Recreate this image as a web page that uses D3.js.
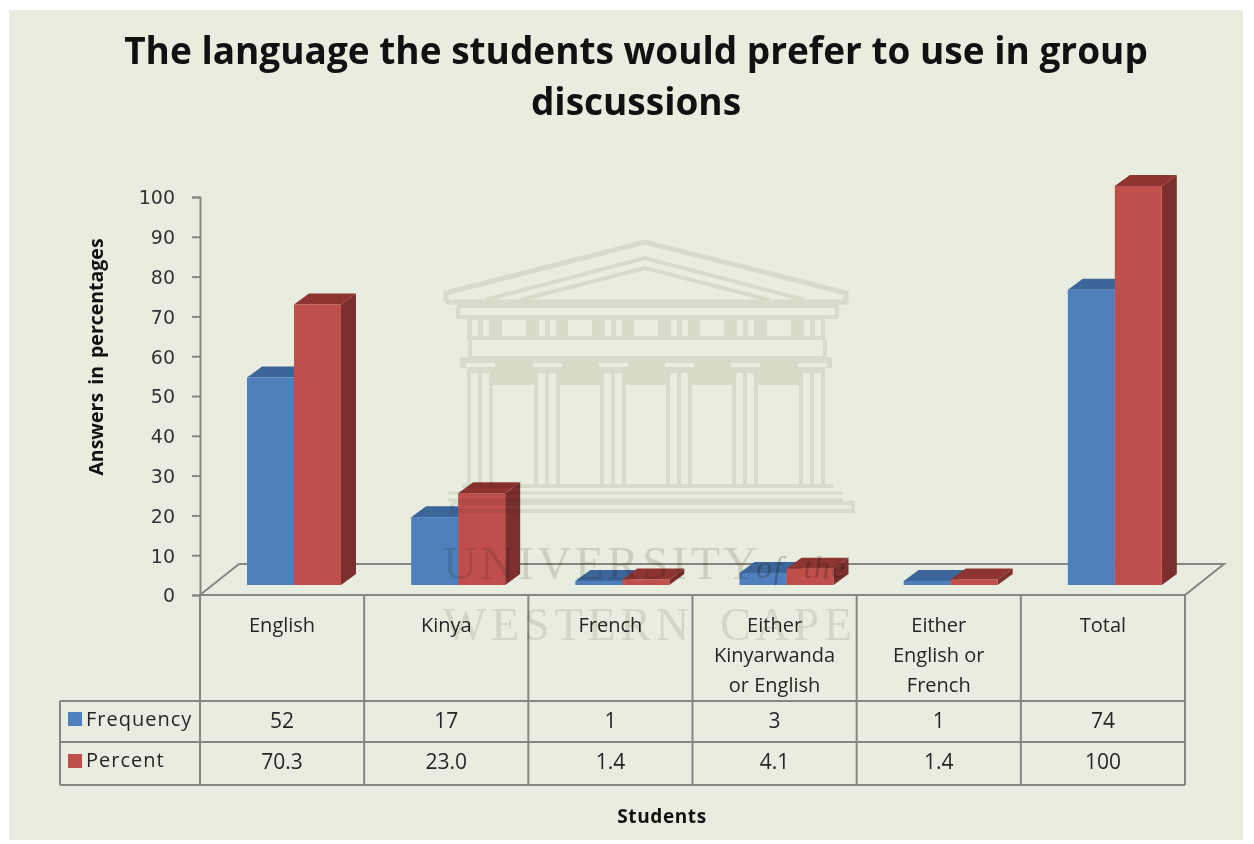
<!DOCTYPE html>
<html>
<head>
<meta charset="utf-8">
<style>
html,body{margin:0;padding:0;background:#fff}
svg{display:block}
text{font-family:"Open Sans",sans-serif;fill:#262626}
</style>
<script src="https://cdn.jsdelivr.net/npm/d3@7/dist/d3.min.js"></script>
</head>
<body>
<svg id="chart" width="1254" height="844"></svg>
<script>
const titleLines = ["The language the students would prefer to use in group", "discussions"];
const categories = ["English", "Kinya", "French", "Either Kinyarwanda or English", "Either English or French", "Total"];
const categoryLines = [["English"], ["Kinya"], ["French"], ["Either", "Kinyarwanda", "or English"], ["Either", "English or", "French"], ["Total"]];
const seriesNames = ["Frequency", "Percent"];
const frequency = [52, 17, 1, 3, 1, 74];
const percent = [70.3, 23.0, 1.4, 4.1, 1.4, 100];
const percentLabels = ["70.3", "23.0", "1.4", "4.1", "1.4", "100"];
const yTicks = [0, 10, 20, 30, 40, 50, 60, 70, 80, 90, 100];
const yLabel = "Answers in percentages";
const xLabel = "Students";
const crestTop = ["UNIVERSITY", "of the"];
const crestBottom = "WESTERN CAPE";

const palette = {
  Frequency: {front: "#4f7fbc", top: "#3c659a", side: "#35598a"},
  Percent: {front: "#c04f4c", top: "#8e3431", side: "#7c2f2d"}
};
const gridColor = "#85887f";
const depth = {dx: 15, dy: -11};

const svg = d3.select("#chart");
svg.append("rect").attr("x", 9).attr("y", 10).attr("width", 1234).attr("height", 830).attr("fill", "#e9eddf");

// Title
svg.append("g").selectAll("text").data(titleLines).join("text")
  .attr("x", 636).attr("y", (d, i) => 64 + i * 51)
  .attr("text-anchor", "middle").attr("font-size", 37).attr("font-weight", 700)
  .style("fill", "#111").text(d => d);

// Scales: the axis runs down to the floor's front edge, bars stand further back on the floor
const column = d3.scaleBand().domain(categories).range([200, 1185]);
const inBand = d3.scaleBand().domain(seriesNames).range([47, 141]);
const yAxisScale = d3.scaleLinear().domain([0, 100]).range([595, 197]);
const yBar = d3.scaleLinear().domain([0, 100]).range([585, 186]);

// Floor of the 3-D plot
const floorBack = yAxisScale(0) - 31;
svg.append("path")
  .attr("d", d3.line()([[200, yAxisScale(0)], [239, floorBack], [1224, floorBack], [1185, yAxisScale(0)]]) + "Z")
  .attr("fill", "none").attr("stroke", gridColor).attr("stroke-width", 2);

// Value axis
const axis = svg.append("g").attr("transform", "translate(200,0)")
  .call(d3.axisLeft(yAxisScale).tickValues(yTicks).tickSize(8).tickPadding(17));
axis.selectAll("path,line").attr("stroke", gridColor).attr("stroke-width", 2);
axis.selectAll("text").attr("font-size", 19).style("font-family", "'DejaVu Sans',sans-serif").style("fill", "#333").attr("dy", "0.36em");

svg.append("text")
  .attr("transform", "translate(103,357) rotate(-90)")
  .attr("text-anchor", "middle").attr("font-size", 19.5).attr("font-weight", 700)
  .style("word-spacing", "3px").style("fill", "#111").text(yLabel);

// Bars with their top and side faces
const seriesValues = [frequency, percent];
const barGroup = svg.append("g");
seriesNames.forEach((name, s) => {
  const w = inBand.bandwidth();
  const g = barGroup.append("g");
  const rows = categories.map((c, i) => ({
    x0: column(c) + inBand(name),
    x1: column(c) + inBand(name) + w,
    yTop: yBar(seriesValues[s][i]),
    yBase: yBar(0)
  }));
  const line = d3.line();
  g.selectAll(".side").data(rows).join("path")
    .attr("fill", palette[name].side)
    .attr("d", d => line([[d.x1, d.yTop], [d.x1 + depth.dx, d.yTop + depth.dy], [d.x1 + depth.dx, d.yBase + depth.dy], [d.x1, d.yBase]]) + "Z");
  g.selectAll(".top").data(rows).join("path")
    .attr("fill", palette[name].top)
    .attr("d", d => line([[d.x0, d.yTop], [d.x0 + depth.dx, d.yTop + depth.dy], [d.x1 + depth.dx, d.yTop + depth.dy], [d.x1, d.yTop]]) + "Z");
  g.selectAll(".front").data(rows).join("rect")
    .attr("fill", palette[name].front)
    .attr("x", d => d.x0).attr("y", d => d.yTop)
    .attr("width", w).attr("height", d => d.yBase - d.yTop);
});

// Data table beneath the plot
const rowY = [701, 742, 785];
const tableLeft = 60, tableRight = 1185, tableTop = yAxisScale(0);
const table = svg.append("g").attr("stroke", gridColor).attr("stroke-width", 2);
rowY.forEach(y => table.append("line").attr("x1", tableLeft).attr("x2", tableRight).attr("y1", y).attr("y2", y));
table.append("line").attr("x1", tableLeft).attr("x2", tableLeft).attr("y1", rowY[0]).attr("y2", rowY[2]);
categories.concat([null]).forEach(c => {
  const x = c === null ? tableRight : column(c);
  table.append("line").attr("x1", x).attr("x2", x).attr("y1", tableTop).attr("y2", rowY[2]);
});

const cellCenter = c => column(c) + column.bandwidth() / 2;
const cellText = svg.append("g").attr("text-anchor", "middle");
categories.forEach((c, i) => {
  categoryLines[i].forEach((line, k) => {
    cellText.append("text").attr("x", cellCenter(c)).attr("y", 632 + k * 30).attr("font-size", 20).text(line);
  });
  cellText.append("text").attr("x", cellCenter(c)).attr("y", 728).attr("font-size", 21).text(frequency[i]);
  cellText.append("text").attr("x", cellCenter(c)).attr("y", 769).attr("font-size", 21).text(percentLabels[i]);
});

// Legend keys sit in the row headers
seriesNames.forEach((name, s) => {
  svg.append("rect").attr("x", 68).attr("y", [712, 754][s]).attr("width", 14).attr("height", 14).attr("fill", palette[name].front);
  svg.append("text").attr("x", 86).attr("y", [726, 767][s]).attr("font-size", 20).style("letter-spacing", "1px").text(name);
});

svg.append("text").attr("x", 662).attr("y", 823).attr("text-anchor", "middle")
  .attr("font-size", 19).attr("font-weight", 700).style("letter-spacing", "0.6px").style("fill", "#111").text(xLabel);

// University crest laid over the whole chart; white areas leave what lies beneath untouched
const crest = svg.append("g").attr("pointer-events", "none").style("mix-blend-mode", "multiply");
const crestInk = "#ebece7";
const crestGap = "#ffffff";
const lineInk = (pts, w) => crest.append("path").attr("d", d3.line()(pts)).attr("fill", "none").attr("stroke", crestInk).attr("stroke-width", w);
const block = (x, y, w, h, fill) => crest.append("rect").attr("x", x).attr("y", y).attr("width", w).attr("height", h).attr("fill", fill);

// Pediment and cornice
lineInk([[446, 302], [446, 293], [645, 242], [846, 293], [846, 302], [446, 302]], 5);
lineInk([[485, 300], [645, 258], [805, 300]], 4);
lineInk([[520, 300], [645, 268], [770, 300]], 4);
lineInk([[458, 306], [458, 317], [837, 317], [837, 306], [458, 306]], 4);

// Frieze with metopes and triglyphs
const columnCenters = [480, 547, 613, 679, 745, 812];
const metopes = [502, 568, 634, 700, 767];
block(467, 316, 358, 24, crestInk);
metopes.forEach(x => block(x, 320, 24, 16, crestGap));
columnCenters.forEach(cx => {
  block(cx - 8, 320, 6, 16, crestGap);
  block(cx + 3, 320, 6, 16, crestGap);
});

// Architrave
lineInk([[470, 340], [470, 358], [825, 358], [825, 340]], 4);
block(460, 357, 372, 11, crestInk);
block(480, 368, 332, 17, crestInk);

// Colonnade
columnCenters.forEach(cx => {
  block(cx - 14, 363, 29, 4, crestGap);
  block(cx - 13, 368, 26, 117, crestInk);
  block(cx - 9, 373, 7, 112, crestGap);
  block(cx + 2, 373, 7, 112, crestGap);
});

// Steps
lineInk([[462, 486], [833, 486]], 4);
lineInk([[448, 493], [843, 493]], 3);
lineInk([[448, 500], [843, 500]], 3);
lineInk([[452, 503], [853, 503], [853, 511], [452, 511], [452, 503]], 4);

const crestFont = "'Liberation Serif',serif";
const crestText = (t, x, y, size, spacing, italic, ink) => crest.append("text")
  .attr("x", x).attr("y", y).attr("font-size", size)
  .style("font-family", crestFont).style("font-style", italic ? "italic" : "normal")
  .style("letter-spacing", spacing + "px").style("word-spacing", "10px").style("fill", ink).text(t);
crestText(crestTop[0], 443, 579, 47, 3.6, false, "#dfe0db");
crestText(crestTop[1], 756, 578, 32, 1.5, true, "#c9cbc4");
crestText(crestBottom, 443, 640, 46, 4.8, false, "#e6e7e2");
</script>
</body>
</html>
